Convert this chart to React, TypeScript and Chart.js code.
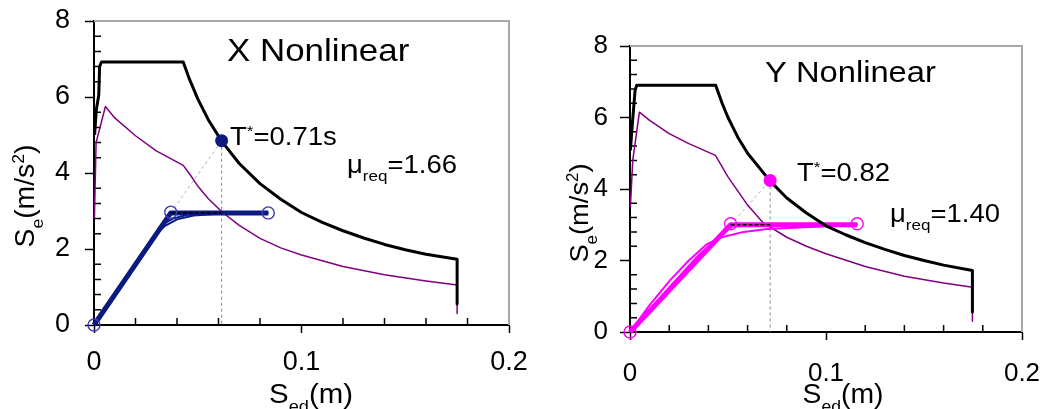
import React, { useEffect, useRef } from "react";
import { Chart, registerables } from "chart.js";

Chart.register(...registerables);

// ---------- X direction (Sed in m, Se in m/s²) ----------
const X_ELASTIC_SD = [0.0003, 0.0011, 0.0023, 0.0027, 0.0036, 0.043, 0.046, 0.05, 0.055, 0.0615, 0.07, 0.08, 0.09, 0.1, 0.11, 0.12, 0.13, 0.14, 0.15, 0.16, 0.175, 0.175];
const X_ELASTIC_SE = [5.0, 5.66, 6.05, 6.8, 6.92, 6.92, 6.47, 5.95, 5.41, 4.84, 4.25, 3.72, 3.31, 2.96, 2.7, 2.48, 2.29, 2.12, 1.98, 1.86, 1.73, 0.55];
const X_INELASTIC_SD = [0.0002, 0.001, 0.0055, 0.01, 0.02, 0.03, 0.043, 0.046, 0.05, 0.055, 0.062, 0.07, 0.08, 0.09, 0.1, 0.12, 0.14, 0.16, 0.175, 0.175];
const X_INELASTIC_SE = [2.8, 4.8, 5.75, 5.45, 4.98, 4.58, 4.2, 3.98, 3.66, 3.33, 2.96, 2.62, 2.28, 2.03, 1.84, 1.54, 1.32, 1.16, 1.05, 0.3];
const X_BILINEAR_SD = [0, 0.037, 0.084];
const X_BILINEAR_SE = [0, 2.95, 2.95];
const X_CURVE_A_SD = [0, 0.015, 0.03, 0.034, 0.04, 0.048, 0.06, 0.084];
const X_CURVE_A_SE = [0, 1.2, 2.4, 2.6, 2.78, 2.88, 2.93, 2.95];
const X_CURVE_B_SD = [0, 0.02, 0.033, 0.038, 0.045, 0.055, 0.084];
const X_CURVE_B_SE = [0, 1.62, 2.65, 2.8, 2.9, 2.94, 2.96];
const X_YIELD_SD = [0.037, 0.0615];
const X_YIELD_SE = [2.95, 2.95];
const X_PERIOD_SD = [0.037, 0.0615];
const X_PERIOD_SE = [2.95, 4.85];
const X_TARGET_SD = [0.0615, 0.0615];
const X_TARGET_SE = [4.85, 0];
const X_MARKER_SD = [0, 0.037, 0.084];
const X_MARKER_SE = [0, 2.97, 2.95];
const X_POINT_SD = [0.0615];
const X_POINT_SE = [4.85];

// ---------- Y direction ----------
const Y_ELASTIC_SD = [0.0002, 0.0012, 0.0026, 0.0034, 0.0437, 0.047, 0.05, 0.055, 0.06, 0.0715, 0.08, 0.09, 0.1, 0.11, 0.12, 0.13, 0.14, 0.15, 0.16, 0.1747, 0.1747];
const Y_ELASTIC_SE = [5.08, 5.83, 6.76, 6.9, 6.9, 6.4, 6.0, 5.45, 5.0, 4.22, 3.75, 3.33, 2.97, 2.72, 2.5, 2.31, 2.14, 2.0, 1.87, 1.72, 0.56];
const Y_INELASTIC_SD = [0.0002, 0.0014, 0.0048, 0.01, 0.02, 0.03, 0.0436, 0.05, 0.06, 0.068, 0.08, 0.09, 0.1, 0.12, 0.14, 0.16, 0.1747, 0.1747];
const Y_INELASTIC_SE = [3.5, 4.8, 6.15, 5.92, 5.55, 5.27, 4.94, 4.34, 3.55, 3.05, 2.65, 2.4, 2.19, 1.83, 1.56, 1.37, 1.25, 0.3];
const Y_BILINEAR_SD = [0, 0.0513, 0.116];
const Y_BILINEAR_SE = [0, 3.0, 3.0];
const Y_CURVE_A_SD = [0, 0.01, 0.0205, 0.03, 0.039, 0.046, 0.052, 0.058, 0.07, 0.092, 0.116];
const Y_CURVE_A_SE = [0, 0.75, 1.45, 2.0, 2.45, 2.64, 2.72, 2.8, 2.88, 2.94, 3.0];
const Y_CURVE_B_SD = [0, 0.02, 0.035, 0.045, 0.052, 0.065, 0.09, 0.116];
const Y_CURVE_B_SE = [0, 1.25, 2.15, 2.65, 2.95, 2.98, 3.0, 3.02];
const Y_YIELD_SD = [0.0513, 0.0715];
const Y_YIELD_SE = [3.0, 3.0];
const Y_PERIOD_SD = [0.0513, 0.0715];
const Y_PERIOD_SE = [3.0, 4.24];
const Y_TARGET_SD = [0.0715, 0.0715];
const Y_TARGET_SE = [4.24, 0];
const Y_MARKER_SD = [0, 0.0513, 0.1159];
const Y_MARKER_SE = [0, 3.03, 3.03];
const Y_POINT_SD = [0.0715];
const Y_POINT_SE = [4.24];

// ---------- axes ----------
const SD_MIN = 0;
const SD_MAX = 0.2;
const SD_STEP = 0.02;
const SD_LABEL_STEP = 0.1;
const SE_MIN = 0;
const SE_MAX = 8;
const SE_STEP = 0.4;
const SE_LABEL_STEP = 2;

const FONT = '"Liberation Sans", Arial, Helvetica, sans-serif';

type Part = { t: string; k?: "sub" | "sup" };
type TextItem = {
  parts: Part[];
  x: number;
  y: number;
  size: number;
  sx: number;
  align: "left" | "center";
  rotate?: boolean;
};

const zip = (xs: number[], ys: number[]) => xs.map((x, i) => ({ x, y: ys[i] }));
const onStep = (v: number, step: number) => Math.abs(v / step - Math.round(v / step)) < 1e-6;

function partSize(p: Part, size: number) {
  return p.k ? size * 0.62 : size;
}

function richWidth(ctx: CanvasRenderingContext2D, parts: Part[], size: number) {
  let w = 0;
  for (const p of parts) {
    ctx.font = `${partSize(p, size)}px ${FONT}`;
    w += ctx.measureText(p.t).width;
  }
  return w;
}

function drawRich(ctx: CanvasRenderingContext2D, item: TextItem) {
  ctx.save();
  ctx.translate(item.x, item.y);
  if (item.rotate) ctx.rotate(-Math.PI / 2);
  ctx.scale(item.sx, 1);
  ctx.fillStyle = "#000";
  ctx.textAlign = "left";
  ctx.textBaseline = "alphabetic";
  let cx = item.align === "center" ? -richWidth(ctx, item.parts, item.size) / 2 : 0;
  for (const p of item.parts) {
    ctx.font = `${partSize(p, item.size)}px ${FONT}`;
    const dy = p.k === "sub" ? item.size * 0.33 : p.k === "sup" ? -item.size * 0.38 : 0;
    ctx.fillText(p.t, cx, dy);
    cx += ctx.measureText(p.t).width;
  }
  ctx.restore();
}

type PanelSpec = {
  left: number;
  width: number;
  padTop: number;
  padRight: number;
  yAxisWidth: number;
  xAxisHeight: number;
  tickFont: number;
  xTickPad: number;
  yTickPad: number;
  xTickLen: number;
  yTickLen: number;
  minorLen: number;
  color: string;
  markerColor: string;
  elastic: [number[], number[]];
  inelastic: [number[], number[]];
  bilinear: [number[], number[]];
  curves: [number[], number[]][];
  yieldLine: [number[], number[]];
  periodLine: [number[], number[]];
  targetLine: [number[], number[]];
  markers: [number[], number[]];
  point: [number[], number[]];
  texts: TextItem[];
};

function makeDecor(spec: PanelSpec) {
  return {
    id: "decor",
    beforeDatasetsDraw(chart: any) {
      const { ctx, chartArea: a } = chart;
      const xs = chart.scales.x;
      const ys = chart.scales.y;
      ctx.save();
      // light frame on top and right
      ctx.strokeStyle = "#a8a8a8";
      ctx.lineWidth = 2;
      ctx.beginPath();
      ctx.moveTo(a.left, a.top);
      ctx.lineTo(a.right, a.top);
      ctx.lineTo(a.right, a.bottom);
      ctx.stroke();
      // minor ticks pointing into the plot
      ctx.strokeStyle = "#000";
      ctx.lineWidth = 1.5;
      ctx.beginPath();
      for (const t of xs.ticks) {
        if (onStep(t.value, SD_LABEL_STEP)) continue;
        const px = xs.getPixelForValue(t.value);
        ctx.moveTo(px, a.bottom);
        ctx.lineTo(px, a.bottom - spec.minorLen);
      }
      for (const t of ys.ticks) {
        if (onStep(t.value, SE_LABEL_STEP)) continue;
        const py = ys.getPixelForValue(t.value);
        ctx.moveTo(a.left, py);
        ctx.lineTo(a.left + spec.minorLen, py);
      }
      ctx.stroke();
      ctx.restore();
    },
    afterDraw(chart: any) {
      const ctx = chart.ctx as CanvasRenderingContext2D;
      for (const item of spec.texts) drawRich(ctx, item);
    },
  };
}

function lineSet(pts: [number[], number[]], color: string, width: number, order: number, dash: number[] = []) {
  return {
    data: zip(pts[0], pts[1]),
    borderColor: color,
    borderWidth: width,
    borderDash: dash,
    pointRadius: 0,
    tension: 0,
    fill: false,
    clip: false as const,
    borderJoinStyle: "round" as const,
    order,
  };
}

function buildConfig(spec: PanelSpec): any {
  const datasets: any[] = [
    lineSet(spec.periodLine, "#b4b4b4", 1, 9, [3, 3]),
    lineSet(spec.targetLine, "#8a8a8a", 1, 8, [3, 3]),
    lineSet(spec.inelastic, "#800080", 1.5, 7),
    ...spec.curves.map((c) => lineSet(c, spec.color, 2, 6)),
    lineSet(spec.bilinear, spec.color, 5, 5),
    lineSet(spec.elastic, "#000", 3, 4),
    lineSet(spec.yieldLine, "#000", 1.5, 3, [4, 2]),
    {
      data: zip(spec.markers[0], spec.markers[1]),
      showLine: false,
      pointRadius: 6,
      pointBorderWidth: 1.4,
      pointBorderColor: spec.markerColor,
      pointBackgroundColor: "rgba(0,0,0,0)",
      clip: false,
      order: 1,
    },
    {
      data: zip(spec.point[0], spec.point[1]),
      showLine: false,
      pointRadius: 6.5,
      pointBorderWidth: 0,
      pointBackgroundColor: spec.color,
      clip: false,
      order: 0,
    },
  ];

  const tickFont = { size: spec.tickFont, family: FONT };

  return {
    type: "line",
    data: { datasets },
    plugins: [makeDecor(spec)],
    options: {
      responsive: false,
      maintainAspectRatio: false,
      animation: false,
      events: [],
      layout: { padding: { left: 0, right: spec.padRight, top: spec.padTop, bottom: 0 } },
      plugins: { legend: { display: false }, tooltip: { enabled: false } },
      scales: {
        x: {
          type: "linear",
          min: SD_MIN,
          max: SD_MAX,
          afterFit: (s: any) => {
            s.height = spec.xAxisHeight;
            s.paddingLeft = 0;
            s.paddingRight = 0;
          },
          ticks: {
            stepSize: SD_STEP,
            autoSkip: false,
            maxRotation: 0,
            minRotation: 0,
            color: "#000",
            font: tickFont,
            padding: spec.xTickPad,
            callback: (v: number) => (onStep(v, SD_LABEL_STEP) ? String(Math.round(v * 10) / 10) : ""),
          },
          grid: {
            drawOnChartArea: false,
            drawTicks: true,
            tickLength: spec.xTickLen,
            tickWidth: 1.5,
            tickColor: (c: any) => (c.tick && onStep(c.tick.value, SD_LABEL_STEP) ? "#000" : "rgba(0,0,0,0)"),
          },
          border: { display: true, color: "#000", width: 2 },
        },
        y: {
          type: "linear",
          min: SE_MIN,
          max: SE_MAX,
          afterFit: (s: any) => {
            s.width = spec.yAxisWidth;
            s.paddingTop = 0;
            s.paddingBottom = 0;
          },
          ticks: {
            stepSize: SE_STEP,
            autoSkip: false,
            color: "#000",
            font: tickFont,
            padding: spec.yTickPad,
            callback: (v: number) => (onStep(v, SE_LABEL_STEP) ? String(Math.round(v)) : ""),
          },
          grid: {
            drawOnChartArea: false,
            drawTicks: true,
            tickLength: spec.yTickLen,
            tickWidth: 1.5,
            tickColor: (c: any) => (c.tick && onStep(c.tick.value, SE_LABEL_STEP) ? "#000" : "rgba(0,0,0,0)"),
          },
          border: { display: true, color: "#000", width: 2 },
        },
      },
    },
  };
}

const seTitle: Part[] = [{ t: "S" }, { t: "e", k: "sub" }, { t: "(m/s" }, { t: "2", k: "sup" }, { t: ")" }];
const sdTitle: Part[] = [{ t: "S" }, { t: "ed", k: "sub" }, { t: "(m)" }];

const PANEL_X: PanelSpec = {
  left: 0,
  width: 560,
  padTop: 21,
  padRight: 51,
  yAxisWidth: 94,
  xAxisHeight: 84,
  tickFont: 27,
  xTickPad: 13,
  yTickPad: 15,
  xTickLen: 8,
  yTickLen: 9,
  minorLen: 7,
  color: "#0a1a80",
  markerColor: "#3c3cb4",
  elastic: [X_ELASTIC_SD, X_ELASTIC_SE],
  inelastic: [X_INELASTIC_SD, X_INELASTIC_SE],
  bilinear: [X_BILINEAR_SD, X_BILINEAR_SE],
  curves: [
    [X_CURVE_A_SD, X_CURVE_A_SE],
    [X_CURVE_B_SD, X_CURVE_B_SE],
  ],
  yieldLine: [X_YIELD_SD, X_YIELD_SE],
  periodLine: [X_PERIOD_SD, X_PERIOD_SE],
  targetLine: [X_TARGET_SD, X_TARGET_SE],
  markers: [X_MARKER_SD, X_MARKER_SE],
  point: [X_POINT_SD, X_POINT_SE],
  texts: [
    { parts: [{ t: "X Nonlinear" }], x: 227, y: 61, size: 32, sx: 1.09, align: "left" },
    { parts: [{ t: "T" }, { t: "*", k: "sup" }, { t: "=0.71s" }], x: 230, y: 145, size: 25, sx: 1.1, align: "left" },
    { parts: [{ t: "μ" }, { t: "req", k: "sub" }, { t: "=1.66" }], x: 347, y: 173, size: 25, sx: 1.1, align: "left" },
    { parts: seTitle, x: 34, y: 196, size: 27, sx: 1.05, align: "center", rotate: true },
    { parts: sdTitle, x: 311, y: 403, size: 28, sx: 1.05, align: "center" },
  ],
};

const PANEL_Y: PanelSpec = {
  left: 520,
  width: 523,
  padTop: 46,
  padRight: 21,
  yAxisWidth: 110,
  xAxisHeight: 77,
  tickFont: 26,
  xTickPad: 18,
  yTickPad: 12,
  xTickLen: 8,
  yTickLen: 10,
  minorLen: 7,
  color: "#ff00ff",
  markerColor: "#ff00ff",
  elastic: [Y_ELASTIC_SD, Y_ELASTIC_SE],
  inelastic: [Y_INELASTIC_SD, Y_INELASTIC_SE],
  bilinear: [Y_BILINEAR_SD, Y_BILINEAR_SE],
  curves: [
    [Y_CURVE_A_SD, Y_CURVE_A_SE],
    [Y_CURVE_B_SD, Y_CURVE_B_SE],
  ],
  yieldLine: [Y_YIELD_SD, Y_YIELD_SE],
  periodLine: [Y_PERIOD_SD, Y_PERIOD_SE],
  targetLine: [Y_TARGET_SD, Y_TARGET_SE],
  markers: [Y_MARKER_SD, Y_MARKER_SE],
  point: [Y_POINT_SD, Y_POINT_SE],
  texts: [
    { parts: [{ t: "Y Nonlinear" }], x: 245, y: 82, size: 30, sx: 1.09, align: "left" },
    { parts: [{ t: "T" }, { t: "*", k: "sup" }, { t: "=0.82" }], x: 277, y: 181, size: 25, sx: 1.1, align: "left" },
    { parts: [{ t: "μ" }, { t: "req", k: "sub" }, { t: "=1.40" }], x: 370, y: 222, size: 25, sx: 1.1, align: "left" },
    { parts: seTitle, x: 68, y: 213, size: 26, sx: 1.05, align: "center", rotate: true },
    { parts: sdTitle, x: 323, y: 403, size: 27, sx: 1.05, align: "center" },
  ],
};

function Panel({ spec }: { spec: PanelSpec }) {
  const ref = useRef<HTMLCanvasElement | null>(null);
  useEffect(() => {
    if (!ref.current) return;
    const chart = new Chart(ref.current, buildConfig(spec));
    return () => chart.destroy();
  }, [spec]);
  return (
    <canvas
      ref={ref}
      width={spec.width}
      height={409}
      style={{ position: "absolute", left: spec.left, top: 0 }}
    />
  );
}

export default function App() {
  return (
    <div
      style={{
        position: "absolute",
        left: 0,
        top: 0,
        width: 1043,
        height: 409,
        background: "#fff",
        overflow: "hidden",
      }}
    >
      <Panel spec={PANEL_X} />
      <Panel spec={PANEL_Y} />
    </div>
  );
}
